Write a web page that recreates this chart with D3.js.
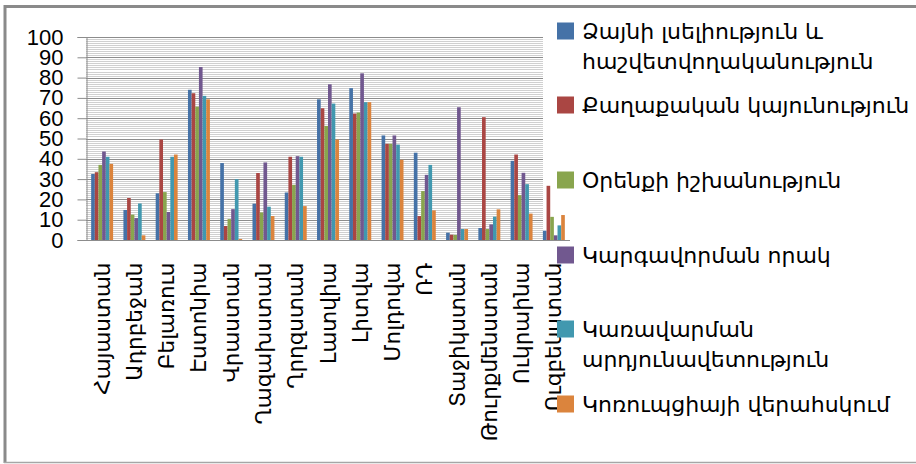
<!DOCTYPE html>
<html>
<head>
<meta charset="utf-8">
<script src="https://cdn.jsdelivr.net/npm/d3@7"></script>
<style>
  html, body { margin: 0; padding: 0; background: #fff; }
  svg { display: block; }
</style>
</head>
<body>
<svg id="chart" width="916" height="464"></svg>
<script>
// Governance indicators by country (0–100)
const categories = ["Հայաստան","Ադրբեջան","Բելառուս","Էստոնիա","Վրաստան","Ղազախստան","Ղրղզստան","Լատվիա","Լիտվա","Մոլդովա","ՌԴ","Տաջիկստան","Թուրքմենստան","Ուկրաինա","Ուզբեկստան"];

const voiceAccountability   = [32.5, 14.8, 23.0, 74.0, 37.9, 17.9, 23.4, 69.3, 74.8, 51.5, 43.0, 3.6, 5.9, 39.0, 4.6];
const politicalStability    = [33.4, 20.7, 49.5, 72.3, 6.9, 33.0, 41.0, 64.9, 62.3, 47.4, 11.8, 2.6, 60.5, 42.1, 26.7];
const ruleOfLaw             = [37.0, 12.5, 23.6, 65.7, 10.3, 13.6, 27.2, 56.2, 62.8, 47.4, 24.1, 2.5, 5.4, 22.1, 11.4];
const regulatoryQuality     = [43.6, 10.8, 13.8, 85.2, 15.2, 38.2, 41.3, 76.7, 82.1, 51.5, 32.1, 65.4, 7.7, 33.1, 2.3];
const govEffectiveness      = [41.0, 18.0, 41.0, 71.0, 30.0, 16.4, 41.0, 67.2, 67.9, 47.0, 37.0, 5.4, 11.5, 27.5, 7.2];
const corruptionControl     = [37.5, 2.3, 42.1, 69.3, 0.5, 11.8, 16.7, 49.5, 67.9, 39.5, 14.6, 5.4, 15.1, 13.0, 12.3];

const seriesNames = [
  ["Ձայնի լսելիություն և", "հաշվետվողականություն"],
  ["Քաղաքական կայունություն"],
  ["Օրենքի իշխանություն"],
  ["Կարգավորման որակ"],
  ["Կառավարման", "արդյունավետություն"],
  ["Կոռուպցիայի վերահսկում"]
];
const seriesValues = [voiceAccountability, politicalStability, ruleOfLaw, regulatoryQuality, govEffectiveness, corruptionControl];
const colors = ["#4572A7", "#AA4643", "#89A54E", "#71588F", "#4198AF", "#DB843D"];
const yTicks = [0, 10, 20, 30, 40, 50, 60, 70, 80, 90, 100];

const svg = d3.select("#chart");
const textFont = "'DejaVu Sans', sans-serif";
const numFont = "'Liberation Sans', Arial, sans-serif";

// outer frame
svg.append("line").attr("x1", 5).attr("x2", 5).attr("y1", 5).attr("y2", 463)
  .attr("stroke", "#8a8a8a").attr("stroke-width", 3);
svg.append("line").attr("x1", 4).attr("x2", 916).attr("y1", 6.5).attr("y2", 6.5)
  .attr("stroke", "#8a8a8a").attr("stroke-width", 3);
svg.append("line").attr("x1", 4).attr("x2", 916).attr("y1", 462.5).attr("y2", 462.5)
  .attr("stroke", "#a6a6a6").attr("stroke-width", 1.5);

const plotLeft = 86, plotRight = 570, plotTop = 37, plotBottom = 240, gridRight = 543;

const y = d3.scaleLinear().domain([0, 100]).range([plotBottom, plotTop]);
const x0 = d3.scaleBand().domain(categories).range([plotLeft, plotRight]).padding(0);
const groupW = x0.bandwidth() * 0.68;
const x1 = d3.scaleBand().domain(d3.range(seriesValues.length))
  .range([(x0.bandwidth() - groupW) / 2, (x0.bandwidth() + groupW) / 2]).padding(0);

// gridlines: minor every unit, major every 10
const grid = svg.append("g");
grid.selectAll("line.minor").data(d3.range(1, 100).filter(v => v % 10 !== 0)).join("line")
  .attr("class", "minor")
  .attr("x1", plotLeft).attr("x2", gridRight)
  .attr("y1", d => Math.round(y(d)) + 0.5).attr("y2", d => Math.round(y(d)) + 0.5)
  .attr("stroke", "#d0d0d0").attr("stroke-width", 1);
grid.selectAll("line.major").data(yTicks.filter(v => v > 0)).join("line")
  .attr("class", "major")
  .attr("x1", plotLeft).attr("x2", gridRight)
  .attr("y1", d => Math.round(y(d)) + 0.5).attr("y2", d => Math.round(y(d)) + 0.5)
  .attr("stroke", "#8c8c8c").attr("stroke-width", 1);

// bars
const groups = svg.append("g").selectAll("g").data(categories).join("g")
  .attr("transform", d => `translate(${x0(d)},0)`);
groups.selectAll("rect").data((d, i) => seriesValues.map((s, k) => ({ k, v: s[i] }))).join("rect")
  .attr("x", d => x1(d.k))
  .attr("width", x1.bandwidth())
  .attr("y", d => y(d.v))
  .attr("height", d => y(0) - y(d.v))
  .attr("fill", d => colors[d.k]);

// y axis
const yAxis = svg.append("g").attr("transform", `translate(${plotLeft + 0.5},0)`)
  .call(d3.axisLeft(y).tickValues(yTicks).tickSize(9).tickPadding(14));
yAxis.select(".domain").attr("stroke", "#8c8c8c");
yAxis.selectAll(".tick line").attr("stroke", "#8c8c8c");
yAxis.selectAll(".tick text").attr("font-family", numFont).attr("font-size", 22).attr("fill", "#000");

// x axis
const xAxis = svg.append("g").attr("transform", `translate(0,${plotBottom + 0.5})`)
  .call(d3.axisBottom(x0).tickSize(0).tickPadding(0));
xAxis.select(".domain").attr("stroke", "#8c8c8c").attr("d", `M${plotLeft},0H${plotRight}`);
xAxis.selectAll(".tick text")
  .attr("font-family", textFont).attr("font-size", 21.5).attr("fill", "#000")
  .attr("text-anchor", "end")
  .attr("transform", "translate(0,22) rotate(-90)")
  .attr("x", 0).attr("y", 0).attr("dy", "0.35em");

// legend
const legendY = [31, 105, 180, 255, 329, 404];
const legend = svg.append("g").selectAll("g").data(seriesNames).join("g")
  .attr("transform", (d, i) => `translate(557,${legendY[i]})`);
legend.append("rect").attr("x", 0).attr("y", -8.5).attr("width", 17).attr("height", 17)
  .attr("fill", (d, i) => colors[i]);
legend.append("text")
  .attr("font-family", textFont).attr("font-size", 22).attr("fill", "#000")
  .selectAll("tspan").data(d => d).join("tspan")
  .attr("x", 25).attr("y", (d, j) => 8 + j * 30)
  .text(d => d);
</script>
</body>
</html>
